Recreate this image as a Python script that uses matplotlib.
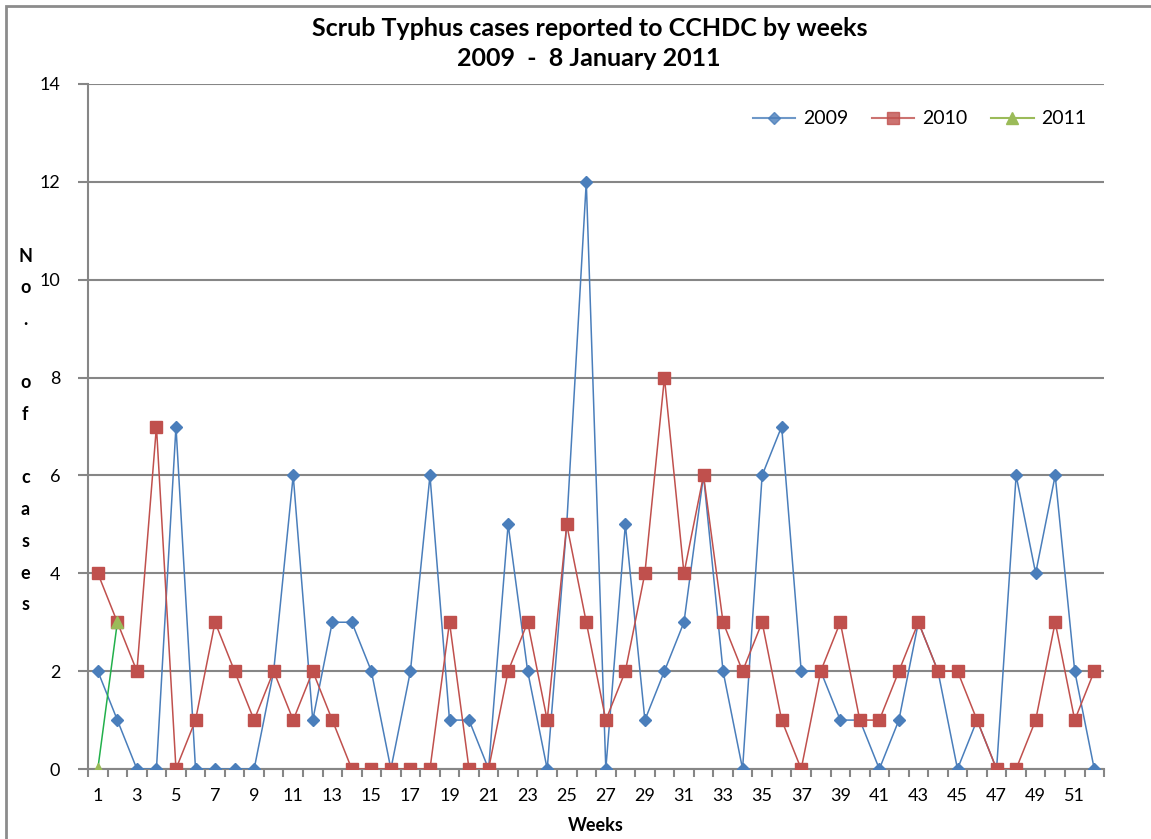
import numpy as np
import matplotlib
matplotlib.use("Agg")
import matplotlib.pyplot as plt
import matplotlib.patches as patches
from matplotlib.lines import Line2D

# Weekly cases.
weeks = list(range(1, 53))
cases_2009 = [2, 1, 0, 0, 7, 0, 0, 0, 0, 2, 6, 1, 3, 3, 2, 0, 2, 6, 1, 1,
              0, 5, 2, 0, 5, 12, 0, 5, 1, 2, 3, 6, 2, 0, 6, 7, 2, 2, 1, 1,
              0, 1, 3, 2, 0, 1, 0, 6, 4, 6, 2, 0]
cases_2010 = [4, 3, 2, 7, 0, 1, 3, 2, 1, 2, 1, 2, 1, 0, 0, 0, 0, 0, 3, 0,
              0, 2, 3, 1, 5, 3, 1, 2, 4, 8, 4, 6, 3, 2, 3, 1, 0, 2, 3, 1,
              1, 2, 3, 2, 2, 1, 0, 0, 1, 3, 1, 2]
weeks_2011 = [1, 2]
cases_2011 = [0, 3]
tick_weeks = list(range(1, 53, 2))
y_ticks = list(range(0, 15, 2))

plt.rcParams['font.family'] = ['Lato', 'DejaVu Sans']

fig = plt.figure(figsize=(11.51, 8.39), dpi=100)
ax = fig.add_axes([0.0765, 0.0834, 0.8827, 0.8165])

# Outer chart border.
fig.patches.append(patches.Rectangle(
    (6 / 1151, -0.02), 1.05, (839 - 6) / 839 + 0.02,
    transform=fig.transFigure, fill=False,
    edgecolor='#8c8c8c', linewidth=2
))

blue = '#4a7ebb'
red = '#c0504d'
green = '#9bbb59'

ax.plot(weeks, cases_2009, color=blue, marker='D', markersize=6,
        linewidth=1.1, zorder=3)
ax.plot(weeks, cases_2010, color=red, marker='s', markersize=8,
        linewidth=1.1, zorder=4)
ax.plot(weeks_2011, cases_2011, color='#22b04b', marker='^', markersize=8,
        markerfacecolor=green, markeredgecolor=green, linewidth=1.1, zorder=5)

ax.set_xlim(0.5, 52.5)
ax.set_ylim(0, 14)
ax.set_yticks(y_ticks)
ax.set_xticks(tick_weeks)
ax.set_xticklabels([str(w) for w in tick_weeks])
ax.set_xticks(np.arange(0.5, 53, 1), minor=True)
ax.tick_params(axis='x', which='major', length=0, pad=14, labelsize=13)
ax.tick_params(axis='x', which='minor', length=6, color='#868686', width=1.5)
ax.tick_params(axis='y', length=7, color='#868686', width=1.5, pad=13,
               labelsize=13)

ax.grid(axis='y', color='#868686', linewidth=1.5)
ax.set_axisbelow(True)
for side in ['top', 'right']:
    ax.spines[side].set_visible(False)
for side in ['left', 'bottom']:
    ax.spines[side].set_color('#868686')
    ax.spines[side].set_linewidth(1.5)

fig.text(0.512, 0.948, "Scrub Typhus cases reported to CCHDC by weeks\n2009  -  8 January 2011",
         ha='center', va='center', fontsize=18, fontweight='bold', linespacing=1.4)
fig.text(0.518, 0.016, "Weeks", ha='center', va='center', fontsize=13,
         fontweight='bold')
fig.text(0.022, 0.487, "\n".join(list("No. of cases")), ha='center', va='center',
         fontsize=13, fontweight='bold', linespacing=2.05)

handles = [
    Line2D([], [], color=blue, marker='D', markersize=6, linewidth=1.5, alpha=0.8),
    Line2D([], [], color=red, marker='s', markersize=8, linewidth=1.5, alpha=0.8),
    Line2D([], [], color=green, marker='^', markersize=8, linewidth=1.5),
]
ax.legend(handles, ['2009', '2010', '2011'], loc='upper right', ncol=3,
          frameon=False, fontsize=14, bbox_to_anchor=(1.0, 0.987),
          handlelength=2.2, columnspacing=1.2, handletextpad=0.4)

plt.savefig("out.png", dpi=100)
plt.close()
